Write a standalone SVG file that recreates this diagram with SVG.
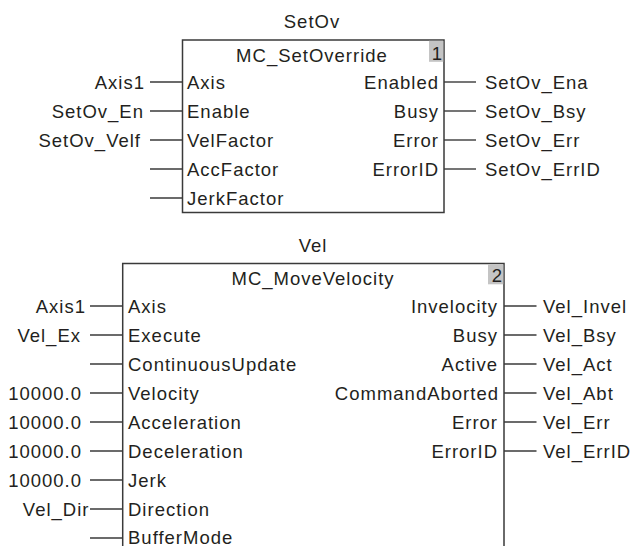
<svg xmlns="http://www.w3.org/2000/svg" width="634" height="546" viewBox="0 0 634 546">
<style>
text{font-family:"Liberation Sans",Arial,sans-serif;font-size:18.5px;fill:#231f20;letter-spacing:1px}
.e{text-anchor:end}
.m{text-anchor:middle}
.box{fill:#fff;stroke:#3a3a3a;stroke-width:1.5}
.num{fill:#c4c4c4}
#connectors line{stroke:#3a3a3a;stroke-width:1.4}
</style>
<rect width="634" height="546" fill="#fff"/>
<g id="fb-setov">
<text class="m" x="312" y="28">SetOv</text>
<rect class="box" x="182.5" y="40" width="261.5" height="172.5"/>
<rect class="num" x="429" y="40.8" width="14.3" height="21"/>
<text class="e" x="443" y="60">1</text>
<text class="m" x="312" y="61.5">MC_SetOverride</text>
<text x="187" y="89">Axis</text>
<text x="187" y="118">Enable</text>
<text x="187" y="147">VelFactor</text>
<text x="187" y="176">AccFactor</text>
<text x="187" y="205">JerkFactor</text>
<text class="e" x="439" y="89">Enabled</text>
<text class="e" x="439" y="118">Busy</text>
<text class="e" x="439" y="147">Error</text>
<text class="e" x="439" y="176">ErrorID</text>
</g>
<g id="setov-vars">
<text class="e" x="145" y="89">Axis1</text>
<text class="e" x="144" y="118">SetOv_En</text>
<text class="e" x="141" y="147">SetOv_Velf</text>
<text x="485" y="89">SetOv_Ena</text>
<text x="485" y="118">SetOv_Bsy</text>
<text x="485" y="147">SetOv_Err</text>
<text x="485" y="176">SetOv_ErrID</text>
</g>
<g id="fb-vel">
<text class="m" x="313" y="252">Vel</text>
<path class="box" d="M122.7 550 V263.5 H504 V550"/>
<rect class="num" x="488" y="264.3" width="15.3" height="20"/>
<text class="e" x="503" y="282">2</text>
<text class="m" x="313" y="285">MC_MoveVelocity</text>
<text x="128" y="313">Axis</text>
<text x="128" y="342">Execute</text>
<text x="128" y="371">ContinuousUpdate</text>
<text x="128" y="400">Velocity</text>
<text x="128" y="429">Acceleration</text>
<text x="128" y="458">Deceleration</text>
<text x="128" y="487">Jerk</text>
<text x="128" y="516">Direction</text>
<text x="128" y="543.5">BufferMode</text>
<text class="e" x="498" y="313">Invelocity</text>
<text class="e" x="498" y="342">Busy</text>
<text class="e" x="498" y="371">Active</text>
<text class="e" x="499" y="400">CommandAborted</text>
<text class="e" x="498" y="429">Error</text>
<text class="e" x="498" y="458">ErrorID</text>
</g>
<g id="vel-vars">
<text class="e" x="86" y="313">Axis1</text>
<text class="e" x="81" y="342">Vel_Ex</text>
<text class="e" x="82" y="400">10000.0</text>
<text class="e" x="82" y="429">10000.0</text>
<text class="e" x="82" y="458">10000.0</text>
<text class="e" x="82" y="487">10000.0</text>
<text class="e" x="89.5" y="516">Vel_Dir</text>
<text x="543" y="313">Vel_Invel</text>
<text x="543" y="342">Vel_Bsy</text>
<text x="543" y="371">Vel_Act</text>
<text x="543" y="400">Vel_Abt</text>
<text x="543" y="429">Vel_Err</text>
<text x="543" y="458">Vel_ErrID</text>
</g>
<g id="connectors">
<line x1="150" y1="82" x2="182.5" y2="82"/>
<line x1="150" y1="111" x2="182.5" y2="111"/>
<line x1="150" y1="140" x2="182.5" y2="140"/>
<line x1="150" y1="169" x2="182.5" y2="169"/>
<line x1="150" y1="198" x2="182.5" y2="198"/>
<line x1="444" y1="82" x2="476" y2="82"/>
<line x1="444" y1="111" x2="476" y2="111"/>
<line x1="444" y1="140" x2="476" y2="140"/>
<line x1="444" y1="169" x2="476" y2="169"/>
<line x1="90" y1="306" x2="122.7" y2="306"/>
<line x1="90" y1="335" x2="122.7" y2="335"/>
<line x1="90" y1="364" x2="122.7" y2="364"/>
<line x1="90" y1="393" x2="122.7" y2="393"/>
<line x1="90" y1="422" x2="122.7" y2="422"/>
<line x1="90" y1="451" x2="122.7" y2="451"/>
<line x1="90" y1="480" x2="122.7" y2="480"/>
<line x1="90" y1="509" x2="122.7" y2="509"/>
<line x1="90" y1="538" x2="122.7" y2="538"/>
<line x1="504" y1="306" x2="536.5" y2="306"/>
<line x1="504" y1="335" x2="536.5" y2="335"/>
<line x1="504" y1="364" x2="536.5" y2="364"/>
<line x1="504" y1="393" x2="536.5" y2="393"/>
<line x1="504" y1="422" x2="536.5" y2="422"/>
<line x1="504" y1="451" x2="536.5" y2="451"/>
</g>
</svg>
